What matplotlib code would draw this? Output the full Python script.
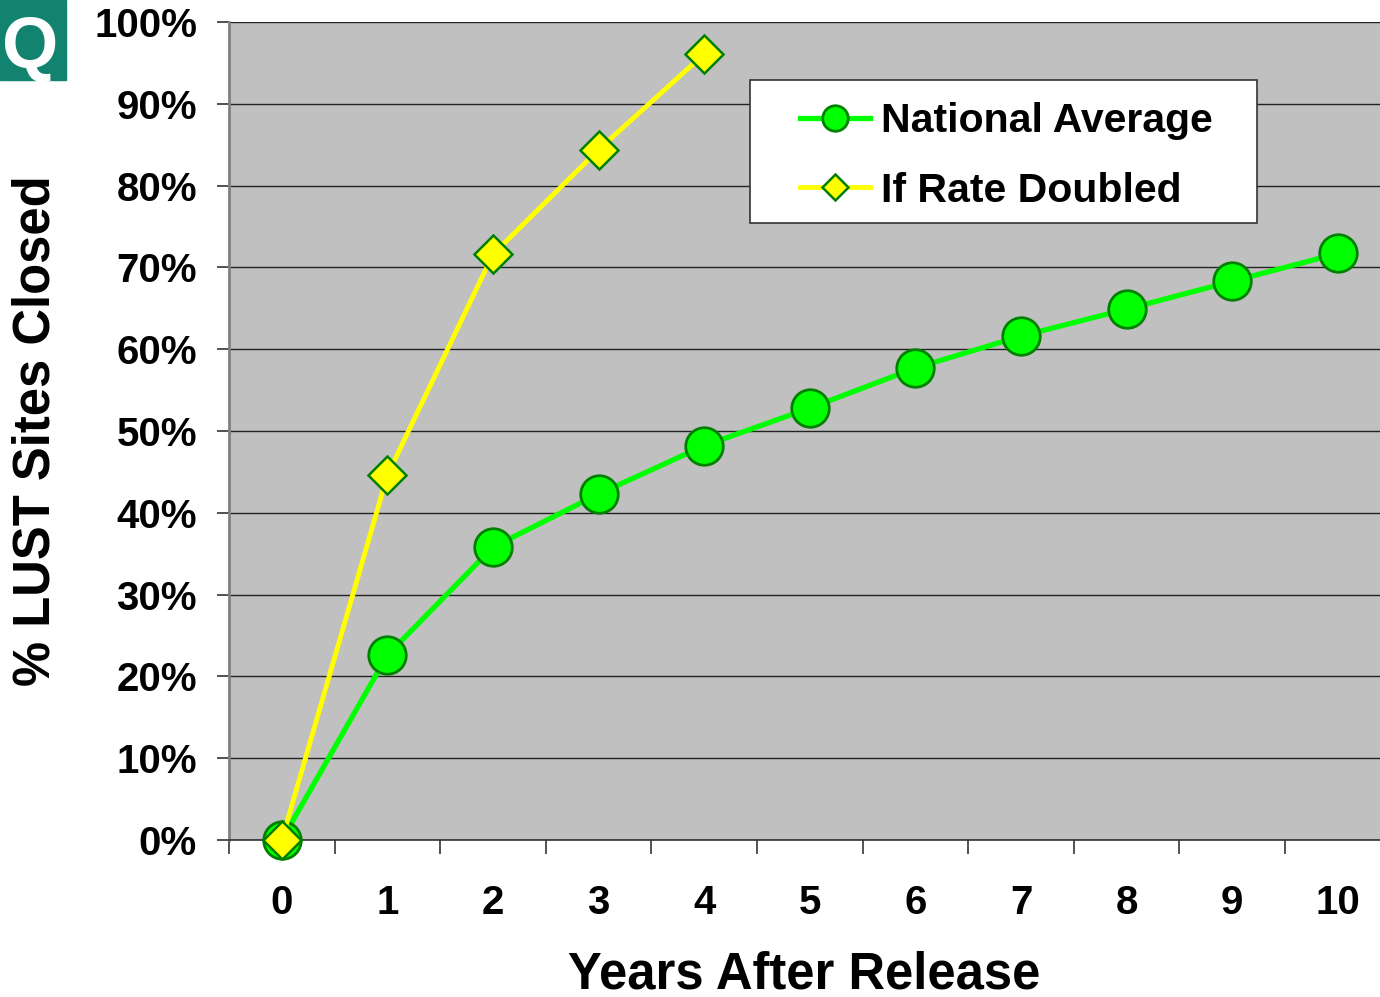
import matplotlib
matplotlib.use("Agg")
import matplotlib.pyplot as plt
from matplotlib.patches import Rectangle

years = [0, 1, 2, 3, 4, 5, 6, 7, 8, 9, 10]
national = [0, 22.6, 35.8, 42.3, 48.2, 52.8, 57.7, 61.6, 64.9, 68.3, 71.7]
doubled_years = [0, 1, 2, 3, 4]
doubled = [0, 44.6, 71.6, 84.4, 96.1]
ytick_vals = list(range(0, 101, 10))
ytick_labels = [f"{v}%" for v in ytick_vals]

plt.rcParams['font.family'] = ['Liberation Sans', 'DejaVu Sans']
plt.rcParams['font.weight'] = 'bold'

fig = plt.figure(figsize=(13.8, 9.97), dpi=100)
ax = fig.add_axes([229 / 1380, 1 - 840 / 997, 1 - 229 / 1380, (840 - 22) / 997])
ax.set_facecolor('#C0C0C0')

ax.plot(years, national, color='#00FF00', lw=3.8, marker='o', ms=27,
        mfc='#00FF00', mec='#008000', mew=2, label='National Average',
        zorder=3, clip_on=False)
ax.plot(doubled_years, doubled, color='#FFFF00', lw=3.5, marker='D', ms=19,
        mfc='#FFFF00', mec='#008000', mew=1.8, label='If Rate Doubled',
        zorder=4, clip_on=False)

ax.set_yticks(ytick_vals)
ax.set_yticklabels(ytick_labels, fontsize=29, fontweight='bold')
ax.set_xticks(years)
ax.set_xticklabels([str(y) for y in years], fontsize=29, fontweight='bold')
ax.set_xticks([y + 0.5 for y in [-1] + years], minor=True)
ax.set_xlim(-0.5, -0.5 + 1151 / 105.6)
ax.set_ylim(0, 100)
ax.tick_params(axis='x', which='major', length=0, pad=32)
ax.tick_params(axis='x', which='minor', length=10, width=1.2, color='#333333')
ax.tick_params(axis='y', length=9, width=1.2, color='#333333', pad=14)
ax.grid(axis='y', color='#222222', lw=1)
ax.set_axisbelow(True)

for side in ['top', 'right']:
    ax.spines[side].set_visible(False)
ax.spines['left'].set_color('#808080')
ax.spines['left'].set_linewidth(2)
ax.spines['bottom'].set_color('#333333')
ax.spines['bottom'].set_linewidth(1.2)

ax.set_xlabel('Years After Release', fontsize=36.5, fontweight='bold', labelpad=20)
ax.set_ylabel('% LUST Sites Closed', fontsize=36.5, fontweight='bold', labelpad=24)

# legend box drawn separately (wider side padding than top/bottom)
ax.add_patch(Rectangle(((750 - 229) / 1151, (840 - 223) / 818), 507 / 1151, 143 / 818,
                       transform=ax.transAxes, facecolor='white', edgecolor='#333333',
                       lw=1.2, zorder=5))
leg = ax.legend(loc='upper left', bbox_to_anchor=((800 - 229) / 1151, (840 - 102) / 818),
                fontsize=29.5, frameon=False, handlelength=1.7, borderpad=0,
                labelspacing=0.77, handletextpad=0.27, borderaxespad=0,
                markerscale=0.68)
leg.set_zorder(6)
for t in leg.get_texts():
    t.set_fontweight('bold')

fig.patches.append(Rectangle((0, 1 - 80 / 997), 66 / 1380, 80 / 997,
                             transform=fig.transFigure, color='#12836E'))
fig.text(30 / 1380, 1 - 68 / 997, 'Q', color='white', fontsize=52,
         fontweight='bold', ha='center', va='baseline')

fig.savefig('out.png', dpi=100)
